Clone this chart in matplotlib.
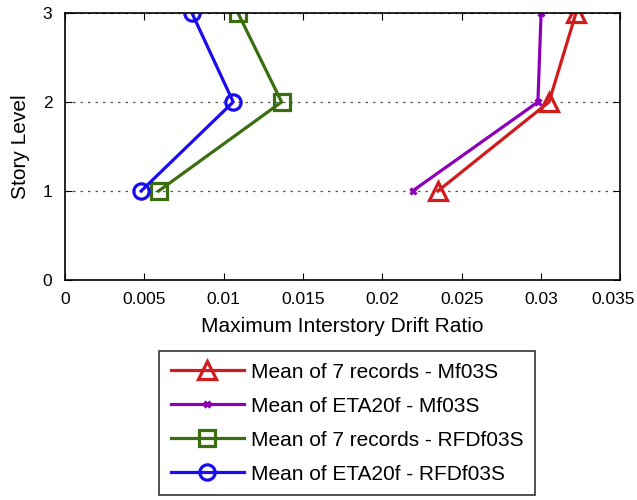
import matplotlib.pyplot as plt
from matplotlib.transforms import ScaledTranslation

plt.rcParams['font.family'] = ['Liberation Sans', 'DejaVu Sans']

levels = [1, 2, 3]
mean7_mf = [0.0235, 0.0305, 0.0322]
eta_mf = [0.0219, 0.0298, 0.0300]
mean7_rfd = [0.0059, 0.01365, 0.0109]
eta_rfd = [0.0048, 0.0106, 0.0080]

xticks = [0, 0.005, 0.01, 0.015, 0.02, 0.025, 0.03, 0.035]
xticklabels = ['0', '0.005', '0.01', '0.015', '0.02', '0.025', '0.03', '0.035']
labels = ['Mean of 7 records - Mf03S', 'Mean of ETA20f - Mf03S',
          'Mean of 7 records - RFDf03S', 'Mean of ETA20f - RFDf03S']

fig = plt.figure(figsize=(6.37, 5), dpi=100)
ax = fig.add_axes([0.102, 0.44, 0.872, 0.534])

ax.plot(mean7_mf, levels, color='#d01c1c', lw=2.3, marker='^', ms=13,
        mfc='none', mew=2.3, label=labels[0])
ax.plot(eta_mf, levels, color='#8c00b8', lw=2.3, marker='x', ms=5,
        mew=2.3, label=labels[1])
ax.plot(mean7_rfd, levels, color='#3a6e10', lw=2.3, marker='s', ms=11,
        mfc='none', mew=2.3, label=labels[2])
ax.plot(eta_rfd, levels, color='#1a0cf0', lw=2.3, marker='o', ms=11,
        mfc='none', mew=2.3, label=labels[3])

ax.set_xlim(0, 0.035)
ax.set_ylim(0, 3)
ax.set_xticks(xticks)
ax.set_xticklabels(xticklabels)
ax.set_yticks([0, 1, 2, 3])
ax.tick_params(direction='in', top=True, right=True, labelsize=12.5, length=5)
ax.tick_params(axis='x', pad=9)
ax.tick_params(axis='y', pad=9)
ax.yaxis.grid(True, linestyle=(0, (2, 4)), color='#555555', lw=0.9)
for s in ax.spines.values():
    s.set_linewidth(1.2)

# keep the last tick label inside the figure
last = ax.get_xticklabels()[-1]
last.set_transform(last.get_transform() + ScaledTranslation(-0.07, 0, fig.dpi_scale_trans))

ax.set_xlabel('Maximum Interstory Drift Ratio', fontsize=15, labelpad=7)
ax.set_ylabel('Story Level', fontsize=15, labelpad=9)

leg = fig.legend(loc='center', bbox_to_anchor=(0.545, 0.154), fontsize=15,
                 frameon=True, fancybox=False, edgecolor='black', handlelength=3.5,
                 borderpad=0.55, labelspacing=0.72, handletextpad=0.35)
leg.get_frame().set_linewidth(1.2)

fig.savefig('out.png', dpi=100)
